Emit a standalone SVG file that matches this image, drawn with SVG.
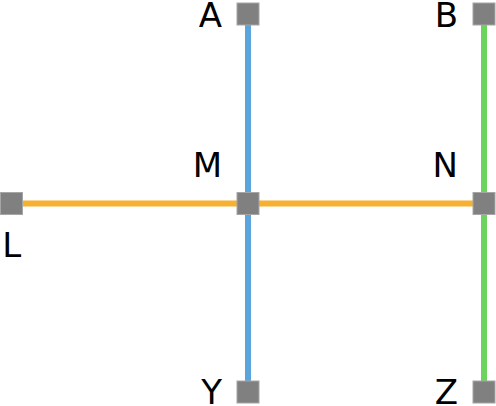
<svg xmlns="http://www.w3.org/2000/svg" width="496" height="406" viewBox="0 0 496 406">
<style>
.n{fill:#808080;stroke:#a6a6a6;stroke-width:1}
.l{font-family:"DejaVu Sans",sans-serif;font-size:34px;fill:#000}
.e{stroke-width:6;fill:none}
</style>
<rect width="496" height="406" fill="#fff"/>
<g id="connectors">
<line class="e" x1="248" y1="14" x2="248" y2="392" stroke="#5ba4dc"/>
<line class="e" x1="484" y1="14" x2="484" y2="392" stroke="#6cd35f"/>
<line class="e" x1="11.5" y1="203.5" x2="484" y2="203.5" stroke="#f7b030"/>
</g>
<g id="A"><rect class="n" x="237" y="3" width="22" height="22"/><text class="l" x="222" y="27" text-anchor="end">A</text></g>
<g id="B"><rect class="n" x="473" y="3" width="22" height="22"/><text class="l" x="458" y="27" text-anchor="end">B</text></g>
<g id="M"><rect class="n" x="237" y="192.5" width="22" height="22"/><text class="l" x="222" y="177" text-anchor="end">M</text></g>
<g id="N"><rect class="n" x="473" y="192.5" width="22" height="22"/><text class="l" x="458" y="177" text-anchor="end">N</text></g>
<g id="L"><rect class="n" x="0.5" y="192.5" width="22" height="22"/><text class="l" x="11.7" y="257" text-anchor="middle">L</text></g>
<g id="Y"><rect class="n" x="237" y="381" width="22" height="22"/><text class="l" x="222" y="404" text-anchor="end">Y</text></g>
<g id="Z"><rect class="n" x="473" y="381" width="22" height="22"/><text class="l" x="458" y="404" text-anchor="end">Z</text></g>
</svg>
